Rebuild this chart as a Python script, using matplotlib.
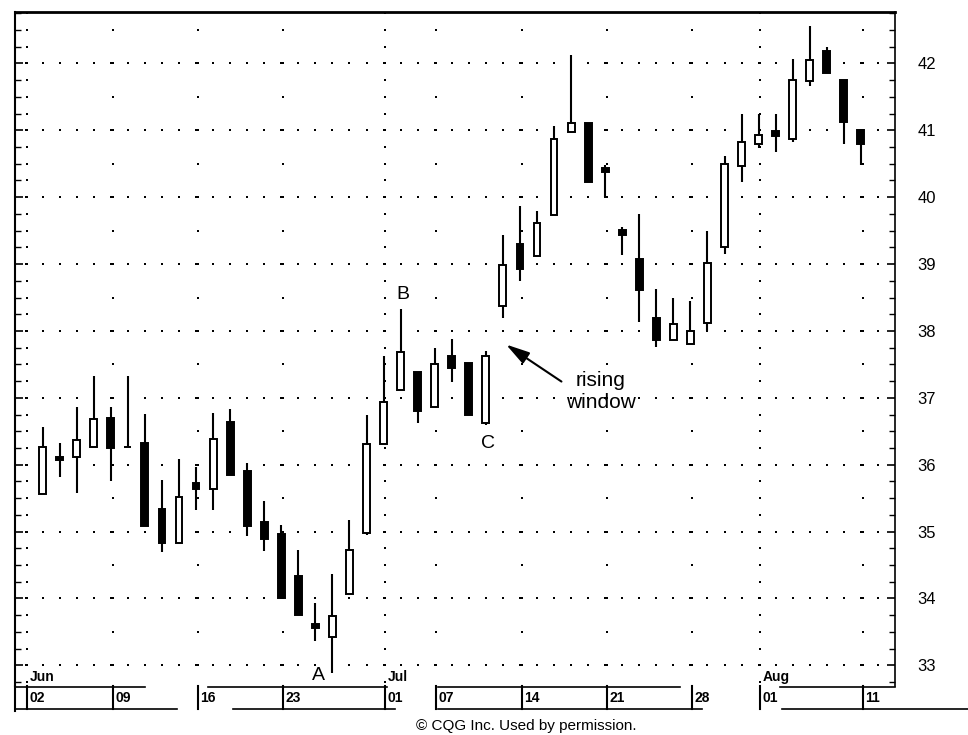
import matplotlib
import matplotlib.pyplot as plt
import numpy as np
import pandas as pd

matplotlib.use('Agg')
plt.rcParams['font.family'] = ['Liberation Sans', 'DejaVu Sans']

# Daily bars, Jun 3 - Aug 11 (Jul 4 holiday)
dates = pd.bdate_range('2003-06-03', '2003-08-11').drop(pd.Timestamp('2003-07-04'))
opens = [35.56, 36.12, 36.12, 36.26, 36.70, 36.26, 36.32, 35.33, 34.83, 35.72,
         35.64, 36.64, 35.90, 35.15, 34.96, 34.34, 33.62, 33.42, 34.06, 34.98,
         36.31, 37.12, 37.38, 36.87, 37.63, 37.52, 36.62, 38.37, 39.30, 39.12,
         39.74, 40.98, 41.11, 40.44, 39.51, 39.08, 38.20, 37.86, 37.81, 38.12,
         39.25, 40.47, 40.80, 40.99, 40.87, 41.74, 42.19, 41.76, 41.00]
highs = [36.56, 36.32, 36.87, 37.32, 36.87, 37.32, 36.76, 35.77, 36.08, 35.96,
         36.77, 36.84, 36.03, 35.46, 35.10, 34.72, 33.93, 34.37, 35.17, 36.75,
         37.62, 38.33, 37.38, 37.75, 37.88, 37.52, 37.70, 39.43, 39.87, 39.80,
         41.06, 42.13, 41.11, 40.48, 39.55, 39.75, 38.63, 38.50, 38.45, 39.49,
         40.62, 41.25, 41.25, 41.25, 42.06, 42.56, 42.25, 41.76, 41.00]
lows = [35.56, 35.82, 35.58, 36.26, 35.76, 36.26, 35.08, 34.69, 34.83, 35.32,
        35.32, 35.84, 34.94, 34.71, 34.01, 33.75, 33.37, 32.88, 34.06, 34.95,
        36.31, 37.12, 36.63, 36.87, 37.24, 36.75, 36.60, 38.19, 38.75, 39.12,
        39.74, 40.98, 40.23, 40.00, 39.13, 38.13, 37.76, 37.86, 37.81, 38.00,
        39.15, 40.23, 40.74, 40.68, 40.82, 41.67, 41.86, 40.80, 40.48]
closes = [36.26, 36.07, 36.37, 36.69, 36.25, 36.26, 35.08, 34.83, 35.51, 35.64,
          36.39, 35.84, 35.08, 34.89, 34.01, 33.75, 33.55, 33.73, 34.73, 36.31,
          36.94, 37.68, 36.80, 37.51, 37.44, 36.75, 37.63, 38.99, 38.92, 39.61,
          40.87, 41.11, 40.23, 40.37, 39.43, 38.61, 37.86, 38.11, 38.00, 39.02,
          40.50, 40.82, 40.93, 40.91, 41.75, 42.05, 41.86, 41.12, 40.80]

label_dates = ['2003-06-02', '2003-06-09', '2003-06-16', '2003-06-23', '2003-07-01',
               '2003-07-07', '2003-07-14', '2003-07-21', '2003-07-28', '2003-08-01',
               '2003-08-11']
day_labels = ['02', '09', '16', '23', '01', '07', '14', '21', '28', '01', '11']
month_labels = {'2003-06-02': 'Jun', '2003-07-01': 'Jul', '2003-08-01': 'Aug'}
price_ticks = [33, 34, 35, 36, 37, 38, 39, 40, 41, 42]

W, H = 968, 735
fig = plt.figure(figsize=(W / 100, H / 100), dpi=100)
ax = fig.add_axes([15 / W, 1 - 686 / H, 880 / W, 674 / H])

x = np.arange(len(dates))
o = np.array(opens)
c = np.array(closes)
ylo, yhi = 32.69, 42.77
xlo, xhi = -1.62, 50.0

# grid dots
dot = dict(ls='none', marker='s', ms=1.5, mew=0, color='black', zorder=1)
seps = np.busday_count('2003-06-03', label_dates, holidays=['2003-07-04']) + 0.1
gx = np.arange(-1, 50)
for p in price_ticks:
    ax.plot(gx, np.full(len(gx), p), **dot)
for d, s in zip(label_dates, seps):
    step = 0.25 if d in month_labels else 0.5
    gy = np.arange(33 - 0.5, yhi, step)
    ax.plot(np.full(len(gy), s), gy, **dot)

# candles
ax.vlines(x, lows, highs, color='black', lw=1.5, zorder=2)
fill = np.where(c < o, 'black', 'white')
ax.bar(x, np.abs(c - o), bottom=np.minimum(o, c), width=0.4, color=fill,
       edgecolor='black', linewidth=1.4, zorder=3)

ax.set_xlim(xlo, xhi)
ax.set_ylim(ylo, yhi)
ax.set_xticks([])
ax.set_yticks(price_ticks)
ax.set_yticks(np.arange(32.75, 42.8, 0.25), minor=True)
ax.tick_params(axis='y', which='both', direction='in', left=True, right=True,
               labelleft=False, labelright=True, labelsize=12, pad=16)
ax.tick_params(axis='y', which='major', length=6, width=1.2)
ax.tick_params(axis='y', which='minor', length=4, width=1)
ax.spines['bottom'].set_visible(False)
ax.spines['top'].set_linewidth(2)
ax.spines['left'].set_linewidth(1.5)
ax.spines['right'].set_linewidth(1.2)

# annotations
ax.text(16.2, 32.85, 'A', ha='center', va='center', fontsize=14)
ax.text(21.15, 38.55, 'B', ha='center', va='center', fontsize=14)
ax.text(26.1, 36.32, 'C', ha='center', va='center', fontsize=14)
ax.annotate('', xy=(27.05, 37.82), xytext=(30.57, 37.22),
            arrowprops=dict(arrowstyle='-|>,head_length=0.8,head_width=0.22',
                            color='black', lw=1.5, mutation_scale=18))
ax.text(32.74, 37.1, 'rising\nwindow', ha='center', va='center', fontsize=15)

# date strip under the chart
xt = ax.get_xaxis_transform()
for d, s, lab in zip(label_dates, seps, day_labels):
    ax.plot([s, s], [0, -0.034], color='black', lw=1.5, transform=xt, clip_on=False)
    ax.text(s + 0.15, -0.018, lab, transform=xt, ha='left', va='center',
            fontsize=10, fontweight='bold', clip_on=False)
    if d in month_labels:
        ax.text(s + 0.15, 0.003, month_labels[d], transform=xt, ha='left',
                va='bottom', fontsize=10, fontweight='bold', clip_on=False)
ax.plot([xlo, xlo], [0, -0.037], color='black', lw=1.5, transform=xt, clip_on=False)


def px_line(x0, x1, y):
    fig.add_artist(plt.Line2D([x0 / W, x1 / W], [1 - y / H, 1 - y / H],
                              color='black', lw=1.2))


for x0, x1 in [(16, 145), (208, 387), (438, 680), (780, 895)]:
    px_line(x0, x1, 687)
for x0, x1 in [(16, 177), (233, 395), (438, 702), (782, 968)]:
    px_line(x0, x1, 709)

fig.text(526 / W, 1 - 726 / H, '\u00a9 CQG Inc. Used by permission.',
         ha='center', va='center', fontsize=11)

fig.savefig('out.png', dpi=100)
